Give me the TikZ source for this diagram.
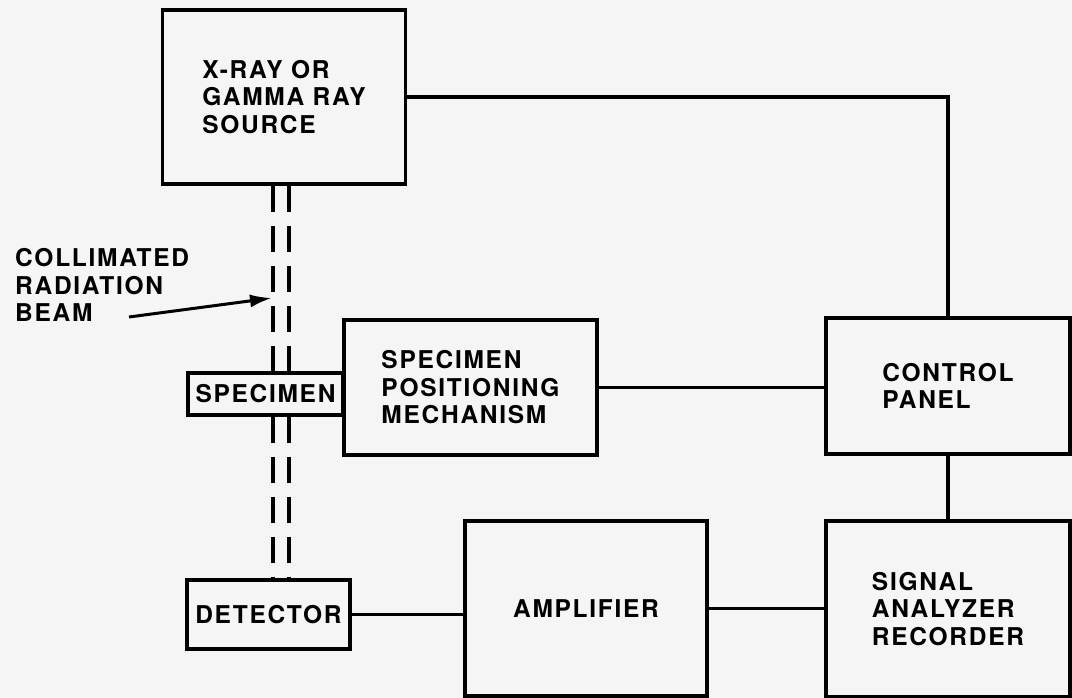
\documentclass[tikz,border=0pt]{standalone}
\usepackage{fontspec}
\setmainfont{TeX Gyre Heros}[LetterSpace=7]
\usetikzlibrary{arrows.meta}
\begin{document}
\begin{tikzpicture}[x=1pt,y=-1pt,
  box/.style={draw, line width=3.3pt, align=left, inner sep=0pt,
    font=\fontsize{24.5}{27.5}\selectfont\bfseries},
  wire/.style={line width=3.3pt},
  beam/.style={line width=3.3pt, dash pattern=on 26pt off 14pt},
  lbl/.style={align=left, inner sep=0pt, font=\fontsize{24.5}{27.5}\selectfont\bfseries},
  pointer/.style={line width=3pt, -{Latex[length=22pt,width=13pt]}}]
\fill[white!96!black] (0,0) rectangle (1072,698);
\useasboundingbox (0,0) rectangle (1072,698);
\node[box, minimum width=243pt, minimum height=174pt] (src) at (284,97)
  {X-RAY OR\\GAMMA RAY\\SOURCE};
\node[box, minimum width=155pt, minimum height=42pt] (spec) at (265.5,394) {SPECIMEN};
\node[box, minimum width=253pt, minimum height=135pt] (mech) at (470.5,387.5)
  {SPECIMEN\\POSITIONING\\MECHANISM};
\node[box, minimum width=244pt, minimum height=136pt] (cp) at (948,386)
  {CONTROL\\PANEL};
\node[box, minimum width=244pt, minimum height=176pt] (sig) at (948,609)
  {SIGNAL\\ANALYZER\\RECORDER};
\node[box, minimum width=242pt, minimum height=175pt] (amp) at (586,608.5) {AMPLIFIER};
\node[box, minimum width=163pt, minimum height=69pt] (det) at (268.5,614.5) {DETECTOR};
\node[lbl, anchor=west] (cl) at (15,285) {COLLIMATED\\RADIATION\\BEAM};
\coordinate (b1) at (273,0);
\coordinate (b2) at (289,0);
\coordinate (ptail) at (129,317);
\coordinate (phead) at (272,298);
% beam
\draw[beam] (src.south -| b1) -- (spec.north -| b1);
\draw[beam] (src.south -| b2) -- (spec.north -| b2);
\draw[beam] (spec.south -| b1) -- (det.north -| b1);
\draw[beam] (spec.south -| b2) -- (det.north -| b2);
% connectors
\draw[wire] (src.east) -| (cp.north);
\draw[wire] (mech.east) -- (mech.east -| cp.west);
\draw[wire] (cp.south) -- (sig.north);
\draw[wire] (det.east) -- (det.east -| amp.west);
\draw[wire] (amp.east) -- (amp.east -| sig.west);
\draw[pointer] (ptail) -- (phead);
\end{tikzpicture}
\end{document}
